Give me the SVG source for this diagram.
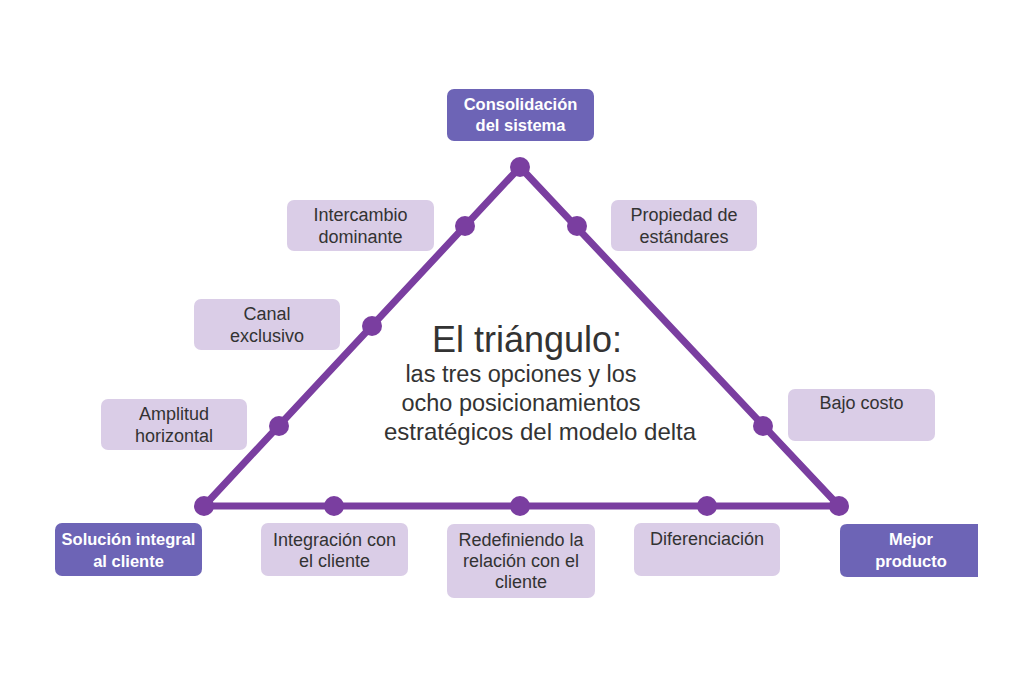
<svg xmlns="http://www.w3.org/2000/svg" width="1024" height="683" viewBox="0 0 1024 683">
<style>
.dark{fill:#6d64b6}
.light{fill:#dacde7}
.dt{font-family:"Liberation Sans",Arial,sans-serif;font-size:16.5px;font-weight:bold;fill:#ffffff;text-anchor:middle}
.lt{font-family:"Liberation Sans",Arial,sans-serif;font-size:18px;fill:#333333;text-anchor:middle}
.edge{fill:none;stroke:#7a3ea0;stroke-width:7;stroke-linejoin:round}
.dot{fill:#7a3ea0}
.title{font-family:"Liberation Sans",Arial,sans-serif;fill:#333333;text-anchor:middle}
</style>
<rect width="1024" height="683" fill="#ffffff"/>
<g id="connectors">
<polygon class="edge" points="520,167 204,506 839,506"/>
<circle class="dot" cx="520" cy="167" r="10"/>
<circle class="dot" cx="465" cy="226" r="10"/>
<circle class="dot" cx="372" cy="326" r="10"/>
<circle class="dot" cx="279" cy="426" r="10"/>
<circle class="dot" cx="577" cy="226" r="10"/>
<circle class="dot" cx="763" cy="426" r="10"/>
<circle class="dot" cx="204" cy="506" r="10"/>
<circle class="dot" cx="334" cy="506" r="10"/>
<circle class="dot" cx="520" cy="506" r="10"/>
<circle class="dot" cx="707" cy="506" r="10"/>
<circle class="dot" cx="839" cy="506" r="10"/>
</g>
<g id="title">
<text class="title" x="527" y="352" font-size="36">El triángulo:</text>
<text class="title" x="521" y="382" font-size="23.5">las tres opciones y los</text>
<text class="title" x="521" y="411" font-size="23.5">ocho posicionamientos</text>
<text class="title" x="540" y="440" font-size="24">estratégicos del modelo delta</text>
</g>
<g id="consolidacion">
<rect class="dark" x="447" y="89" width="147" height="52" rx="7"/>
<text class="dt" x="520.5" y="110">Consolidación</text>
<text class="dt" x="520.5" y="131">del sistema</text>
</g>
<g id="intercambio">
<rect class="light" x="287" y="200" width="147" height="51" rx="7"/>
<text class="lt" x="360.5" y="221">Intercambio</text>
<text class="lt" x="360.5" y="243">dominante</text>
</g>
<g id="propiedad">
<rect class="light" x="611" y="200" width="146" height="51" rx="7"/>
<text class="lt" x="684" y="221">Propiedad de</text>
<text class="lt" x="684" y="243">estándares</text>
</g>
<g id="canal">
<rect class="light" x="194" y="299" width="146" height="51" rx="7"/>
<text class="lt" x="267" y="320">Canal</text>
<text class="lt" x="267" y="342">exclusivo</text>
</g>
<g id="amplitud">
<rect class="light" x="101" y="399" width="146" height="51" rx="7"/>
<text class="lt" x="174" y="420">Amplitud</text>
<text class="lt" x="174" y="442">horizontal</text>
</g>
<g id="bajo-costo">
<rect class="light" x="788" y="389" width="147" height="52" rx="7"/>
<text class="lt" x="861.5" y="409">Bajo costo</text>
</g>
<g id="solucion">
<rect class="dark" x="55" y="523" width="147" height="53" rx="7"/>
<text class="dt" x="128.5" y="545">Solución integral</text>
<text class="dt" x="128.5" y="567">al cliente</text>
</g>
<g id="integracion">
<rect class="light" x="261" y="523" width="147" height="53" rx="7"/>
<text class="lt" x="334.5" y="546">Integración con</text>
<text class="lt" x="334.5" y="567">el cliente</text>
</g>
<g id="redefiniendo">
<rect class="light" x="447" y="524" width="148" height="74" rx="7"/>
<text class="lt" x="521" y="546">Redefiniendo la</text>
<text class="lt" x="521" y="567">relación con el</text>
<text class="lt" x="521" y="588">cliente</text>
</g>
<g id="diferenciacion">
<rect class="light" x="634" y="523" width="146" height="53" rx="7"/>
<text class="lt" x="707" y="545">Diferenciación</text>
</g>
<g id="mejor-producto">
<path class="dark" d="M847,524 H978 V577 H847 Q840,577 840,570 V531 Q840,524 847,524 Z"/>
<text class="dt" x="911" y="545">Mejor</text>
<text class="dt" x="911" y="567">producto</text>
</g>
</svg>
